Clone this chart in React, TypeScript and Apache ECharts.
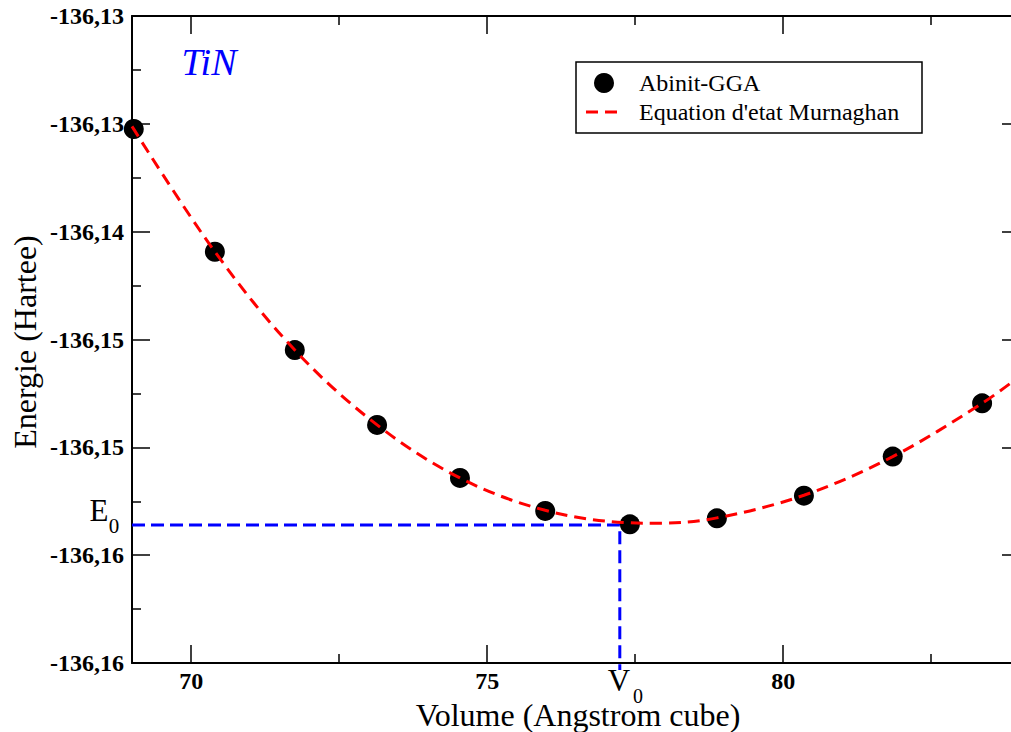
import React, { useEffect, useRef } from "react";
import * as echarts from "echarts";

// Measured points (Abinit-GGA)
const volumes = [69.03, 70.4, 71.75, 73.14, 74.54, 75.98, 77.41, 78.88, 80.35, 81.85, 83.36];
const energies = [
  -136.13524, -136.14093, -136.14549, -136.14896, -136.15142, -136.15295,
  -136.15357, -136.15329, -136.15224, -136.15043, -136.14796,
];

// Murnaghan fit curve
const fitVolumes = [69.0, 70.4, 71.75, 73.14, 74.54, 75.98, 77.41, 77.9, 78.88, 80.35, 81.85, 83.36, 84.0];
const fitEnergies = [
  -136.13512, -136.14093, -136.14549, -136.14896, -136.15142, -136.15292,
  -136.1535, -136.15352, -136.15327, -136.15222, -136.15043, -136.14796, -136.14669,
];

// Equilibrium markers
const E0 = -136.1536;
const V0 = 77.24;
const vLineBottom = -136.16032;

// Axes
const xMin = 69;
const xMax = 84;
const xMajorTicks = [70, 75, 80];
const xMinorTicks = [72.5, 77.5, 82.5];
const yMin = -136.16;
const yMax = -136.13;
const yStep = 0.005;
const yTickLabels = ["-136,16", "-136,16", "-136,15", "-136,15", "-136,14", "-136,13", "-136,13"];

const FONT = "Liberation Serif";

export default function App() {
  const ref = useRef<HTMLDivElement>(null);

  useEffect(() => {
    if (!ref.current) return;
    const chart = echarts.init(ref.current, undefined, { renderer: "svg" });

    const axisLine = { show: true, lineStyle: { color: "#000", width: 2 } };
    const tickStyle = { color: "#000", width: 1.5 };

    const xAxisBase = (position: string, ticks: number[], length: number, showLine: boolean, showLabel: boolean) => ({
      type: "value",
      position,
      min: xMin,
      max: xMax,
      axisLine: showLine ? axisLine : { show: false },
      axisTick: { show: true, inside: true, length, customValues: ticks, lineStyle: tickStyle },
      axisLabel: showLabel
        ? {
            show: true,
            customValues: ticks,
            fontSize: 24,
            fontWeight: "bold",
            fontFamily: FONT,
            color: "#000",
            margin: 6,
          }
        : { show: false },
      splitLine: { show: false },
    });

    const yAxisBase = (position: string, showLabel: boolean) => ({
      type: "value",
      position,
      min: yMin,
      max: yMax,
      interval: yStep,
      axisLine,
      axisTick: { show: true, inside: true, length: 18, lineStyle: tickStyle },
      minorTick: { show: true, splitNumber: 2, length: 9, lineStyle: tickStyle },
      axisLabel: showLabel
        ? {
            show: true,
            fontSize: 24,
            fontWeight: "bold",
            fontFamily: FONT,
            color: "#000",
            margin: 8,
            showMinLabel: true,
            showMaxLabel: true,
            formatter: (v: number) => yTickLabels[Math.round((v - yMin) / yStep)] ?? "",
          }
        : { show: false },
      splitLine: { show: false },
      minorSplitLine: { show: false },
    });

    const textStyle = (text: string, size: number, extra: any = {}) => ({
      text,
      fontSize: size,
      fontFamily: FONT,
      fill: "#000",
      align: "center",
      verticalAlign: "middle",
      ...extra,
    });

    chart.setOption({
      animation: false,
      backgroundColor: "#fff",
      textStyle: { fontFamily: FONT },
      grid: { left: 132, top: 16, width: 888, height: 647, containLabel: false },
      xAxis: [
        xAxisBase("bottom", xMajorTicks, 18, true, true),
        xAxisBase("bottom", xMinorTicks, 9, false, false),
        xAxisBase("top", xMajorTicks, 18, true, false),
        xAxisBase("top", xMinorTicks, 9, false, false),
      ],
      yAxis: [yAxisBase("left", true), yAxisBase("right", false)],
      series: [
        {
          name: "E0/V0",
          type: "line",
          xAxisIndex: 0,
          yAxisIndex: 0,
          data: [
            [xMin, E0],
            [V0, E0],
            [V0, vLineBottom],
          ],
          symbol: "none",
          clip: false,
          lineStyle: { color: "#0000ff", width: 3, type: [13, 6] },
          z: 3,
        },
        {
          name: "Abinit-GGA",
          type: "scatter",
          xAxisIndex: 0,
          yAxisIndex: 0,
          data: volumes.map((v, i) => [v, energies[i]]),
          symbol: "circle",
          symbolSize: 20,
          itemStyle: { color: "#000", opacity: 1 },
          z: 4,
        },
        {
          name: "Equation d'etat Murnaghan",
          type: "line",
          xAxisIndex: 0,
          yAxisIndex: 0,
          data: fitVolumes.map((v, i) => [v, fitEnergies[i]]),
          smooth: 0.35,
          symbol: "none",
          lineStyle: { color: "#ff0000", width: 3, type: [12, 7] },
          z: 5,
        },
      ],
      graphic: [
        { type: "text", x: 209, y: 62, style: textStyle("TiN", 38, { fill: "#0000ff", fontStyle: "italic" }) },
        { type: "text", x: 578, y: 715, style: textStyle("Volume (Angstrom cube)", 32) },
        { type: "text", x: 25, y: 342, rotation: Math.PI / 2, style: textStyle("Energie (Hartee)", 32) },
        { type: "text", x: 99, y: 510, style: textStyle("E", 31) },
        { type: "text", x: 114, y: 526, style: textStyle("0", 21) },
        { type: "text", x: 619, y: 680, style: textStyle("V", 31) },
        { type: "text", x: 638, y: 696, style: textStyle("0", 20) },
        {
          type: "rect",
          shape: { x: 576, y: 62, width: 346, height: 71 },
          style: { fill: "#fff", stroke: "#000", lineWidth: 1.5 },
          z: 10,
        },
        { type: "circle", shape: { cx: 604, cy: 83, r: 10 }, style: { fill: "#000" }, z: 11 },
        {
          type: "line",
          shape: { x1: 586, y1: 112, x2: 623, y2: 112 },
          style: { stroke: "#ff0000", lineWidth: 3, lineDash: [12, 7] },
          z: 11,
        },
        { type: "text", x: 639, y: 83, style: textStyle("Abinit-GGA", 24, { align: "left" }), z: 11 },
        { type: "text", x: 639, y: 112, style: textStyle("Equation d'etat Murnaghan", 24, { align: "left" }), z: 11 },
      ],
    });

    return () => chart.dispose();
  }, []);

  return (
    <div
      style={{
        position: "fixed",
        left: 0,
        top: 0,
        width: 1011,
        height: 732,
        overflow: "hidden",
        background: "#fff",
      }}
    >
      <div ref={ref} style={{ width: 1040, height: 732 }} />
    </div>
  );
}
